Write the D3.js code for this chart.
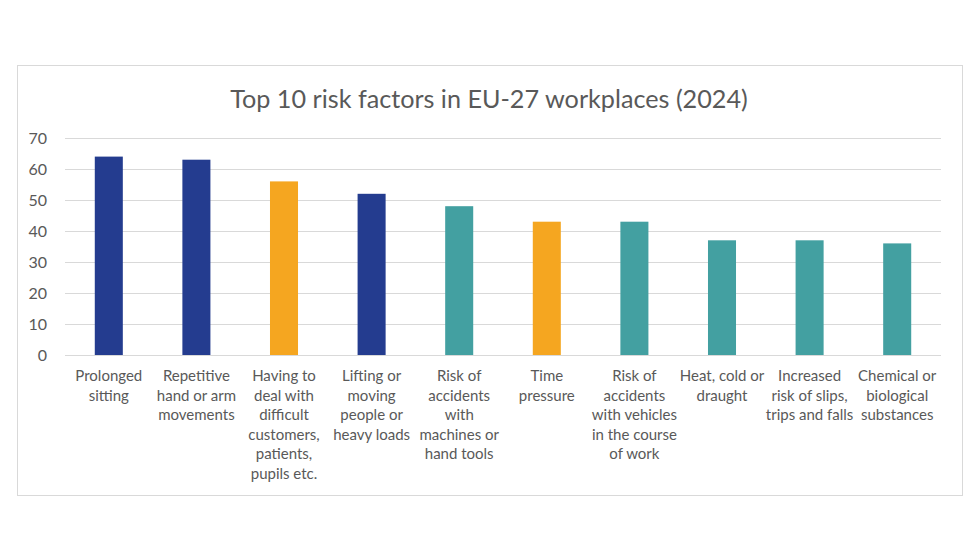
<!DOCTYPE html>
<html><head><meta charset="utf-8">
<script src="https://cdn.jsdelivr.net/npm/d3@7"></script>
<style>body{margin:0;background:#fff;}svg{display:block;}</style>
</head><body>
<svg id="c" width="980" height="560"></svg>
<script>
const categories = [
  ["Prolonged","sitting"],
  ["Repetitive","hand or arm","movements"],
  ["Having to","deal with","difficult","customers,","patients,","pupils etc."],
  ["Lifting or","moving","people or","heavy loads"],
  ["Risk of","accidents","with","machines or","hand tools"],
  ["Time","pressure"],
  ["Risk of","accidents","with vehicles","in the course","of work"],
  ["Heat, cold or","draught"],
  ["Increased","risk of slips,","trips and falls"],
  ["Chemical or","biological","substances"]
];
const values = [64, 63, 56, 52, 48, 43, 43, 37, 37, 36];
const groups = ["ergo","ergo","psy","ergo","phys","psy","phys","phys","phys","phys"];
const yTicks = [0,10,20,30,40,50,60,70];
const title = "Top 10 risk factors in EU-27 workplaces (2024)";

const colorScale = d3.scaleOrdinal().domain(["ergo","psy","phys"]).range(["#243c8f","#f5a620","#43a0a1"]);
const font = "Lato, 'Open Sans', sans-serif";
const svg = d3.select("#c");
svg.append("rect").attr("x",17.5).attr("y",65.5).attr("width",945).attr("height",430)
  .attr("fill","#fff").attr("stroke","#d9d9d9");
svg.append("text").attr("x",489).attr("y",107.5).attr("text-anchor","middle")
  .attr("font-family",font).attr("font-size",25.2).attr("fill","#595959").text(title);

const x = d3.scaleBand().domain(d3.range(categories.length)).range([65,941]).paddingInner(0.68).paddingOuter(0.34);
const y = d3.scaleLinear().domain([0,70]).range([355,138]);

const gy = svg.append("g").attr("transform","translate(65,0)")
  .call(d3.axisLeft(y).tickValues(yTicks).tickSize(-876).tickPadding(18));
gy.select(".domain").remove();
gy.selectAll(".tick line").attr("stroke","#d9d9d9").attr("stroke-width",1);
gy.selectAll(".tick text").attr("font-family",font).attr("font-size",16).attr("fill","#595959");

svg.append("g").selectAll("rect").data(values).join("rect")
  .attr("x",(d,i)=>x(i)).attr("width",x.bandwidth())
  .attr("y",d=>y(d)).attr("height",d=>y(0)-y(d))
  .attr("fill",(d,i)=>colorScale(groups[i]));

const lab = svg.append("g").selectAll("text").data(categories).join("text")
  .attr("text-anchor","middle").attr("font-family",font).attr("font-size",15).attr("fill","#595959")
  .attr("transform",(d,i)=>`translate(${x(i)+x.bandwidth()/2},381)`);
lab.selectAll("tspan").data(d=>d).join("tspan").attr("x",0).attr("dy",(d,j)=>j===0?0:19.5).text(d=>d);
</script>
</body></html>
